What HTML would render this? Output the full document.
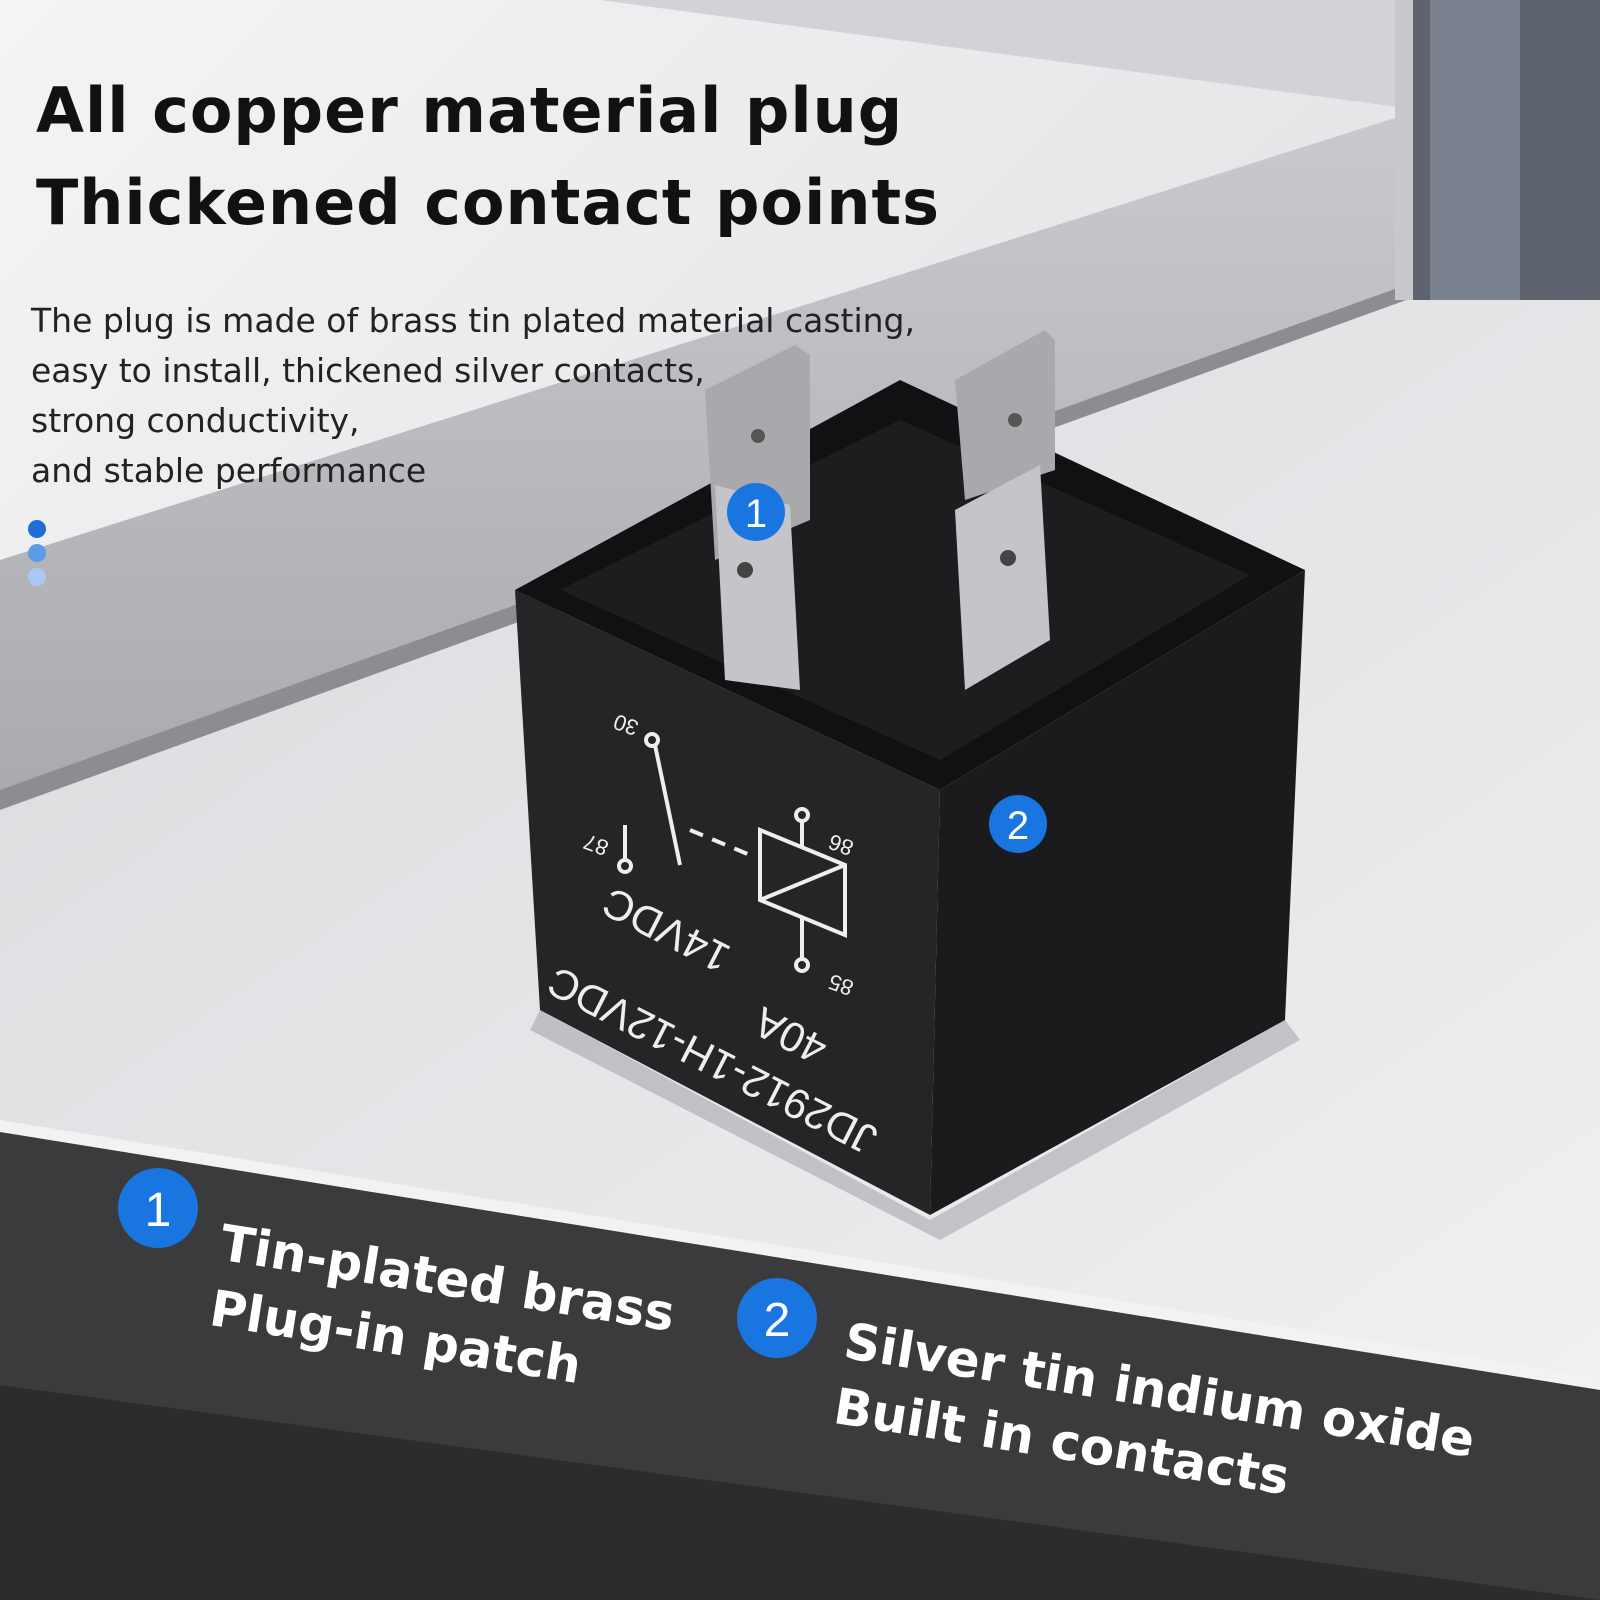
<!DOCTYPE html>
<html><head><meta charset="utf-8">
<style>
html,body{margin:0;padding:0;}
body{width:1600px;height:1600px;position:relative;overflow:hidden;background:#e6e7ea;font-family:"Liberation Sans","DejaVu Sans",sans-serif;}
svg{position:absolute;left:0;top:0;}
.t{position:absolute;left:36px;font-weight:bold;font-size:62px;color:#111;letter-spacing:1px;white-space:nowrap;font-family:"DejaVu Sans","Liberation Sans",sans-serif;}
.b{position:absolute;left:31px;font-size:33px;color:#222;white-space:nowrap;font-family:"DejaVu Sans","Liberation Sans",sans-serif;}
.cap{position:absolute;color:#fff;font-weight:bold;font-size:50px;white-space:nowrap;transform-origin:0 0;line-height:66px;font-family:"DejaVu Sans","Liberation Sans",sans-serif;}
</style></head><body>
<svg width="1600" height="1600" viewBox="0 0 1600 1600">
<defs>
<linearGradient id="bg" x1="0" y1="0" x2="1" y2="1"><stop offset="0" stop-color="#f4f4f5"/><stop offset="1" stop-color="#d6d7db"/></linearGradient>
<linearGradient id="shelf" x1="0" y1="0" x2="0" y2="1"><stop offset="0" stop-color="#c9cacd"/><stop offset="1" stop-color="#a9aaae"/></linearGradient>
<linearGradient id="floor" x1="0" y1="0" x2="1" y2="1"><stop offset="0" stop-color="#d9dadd"/><stop offset="1" stop-color="#f0f0f2"/></linearGradient>
</defs>
<rect width="1600" height="1600" fill="url(#bg)"/>
<polygon points="600,0 1420,0 1420,110 " fill="#d2d3d6"/>
<polygon points="0,560 1420,110 1420,290 0,800" fill="url(#shelf)"/>
<polygon points="0,800 1420,290 1600,285 1600,1390 0,1130" fill="url(#floor)"/>
<polygon points="0,790 1420,280 1420,295 0,810" fill="#8c8d91"/>
<rect x="1410" y="0" width="190" height="300" fill="#5d6470"/>
<rect x="1430" y="0" width="90" height="300" fill="#7a8290"/>
<rect x="1395" y="0" width="18" height="300" fill="#c8c9cc"/>
<polygon points="0,1128 1600,1388 1600,1600 0,1600" fill="#3b3b3d"/>
<polygon points="0,1385 1600,1600 0,1600" fill="#2c2c2e"/>
<polygon points="0,1120 1600,1378 1600,1390 0,1132" fill="#f2f2f2"/>
<polygon points="540,1010 930,1220 1285,1020 1300,1040 940,1240 530,1030" fill="#9a9b9f" opacity="0.5"/>
<polygon points="940,790 1305,570 1285,1020 930,1215" fill="#1b1b1d"/>
<polygon points="515,590 940,790 930,1215 540,1010" fill="#252527"/>
<polygon points="515,590 900,380 1305,570 940,790" fill="#111113"/>
<polygon points="560,590 900,420 1250,575 940,760" fill="#1d1d20"/>
<polygon points="705,390 795,345 810,355 810,520 715,560" fill="#a8a9ad"/>
<polygon points="715,485 790,505 800,690 725,680" fill="#c4c5c8"/>
<polygon points="955,380 1045,330 1055,340 1055,470 965,500" fill="#a8a9ad"/>
<polygon points="955,510 1040,465 1050,640 965,690" fill="#c4c5c8"/>
<circle cx="758" cy="436" r="7" fill="#555"/><circle cx="745" cy="570" r="8" fill="#444"/>
<circle cx="1015" cy="420" r="7" fill="#555"/><circle cx="1008" cy="558" r="8" fill="#444"/>
<g stroke="#eee" stroke-width="4" fill="none">
<polygon points="760,830 845,865 845,935 760,900"/>
<line x1="760" y1="900" x2="845" y2="865"/>
<line x1="802" y1="820" x2="802" y2="848"/><line x1="802" y1="918" x2="802" y2="960"/>
<line x1="655" y1="745" x2="680" y2="865"/>
<line x1="690" y1="830" x2="750" y2="855" stroke-dasharray="14 10"/>
<line x1="625" y1="825" x2="625" y2="860"/>
<circle cx="652" cy="740" r="6"/><circle cx="625" cy="866" r="6"/><circle cx="802" cy="815" r="6"/><circle cx="802" cy="965" r="6"/>
</g>
<g fill="#eee" font-family="Liberation Sans,sans-serif">
<text x="0" y="0" font-size="22" transform="translate(640,722) rotate(200)">30</text>
<text x="0" y="0" font-size="22" transform="translate(610,842) rotate(200)">87</text>
<text x="0" y="0" font-size="22" transform="translate(855,842) rotate(200)">86</text>
<text x="0" y="0" font-size="22" transform="translate(855,982) rotate(200)">85</text>
<text x="0" y="0" font-size="42" transform="translate(733,948) rotate(207)">14VDC</text>
<text x="0" y="0" font-size="42" transform="translate(830,1040) rotate(207)">40A</text>
<text x="0" y="0" font-size="42" transform="translate(880,1130) rotate(207)">JD2912-1H-12VDC</text>
</g>
<g font-family="Liberation Sans,sans-serif" font-size="40" fill="#fff" text-anchor="middle">
<circle cx="756" cy="512" r="29" fill="#1976e0"/><text x="756" y="527">1</text>
<circle cx="1018" cy="824" r="29" fill="#1976e0"/><text x="1018" y="839">2</text>
<circle cx="158" cy="1208" r="40" fill="#1976e0"/><text x="158" y="1226" font-size="48">1</text>
<circle cx="777" cy="1318" r="40" fill="#1976e0"/><text x="777" y="1336" font-size="48">2</text>
</g>
<circle cx="37" cy="529" r="9" fill="#1e6fd6"/>
<circle cx="37" cy="553" r="9" fill="#5b9be8"/>
<circle cx="37" cy="577" r="9" fill="#a9c9f2"/>
</svg>
<div class="t" style="top:74px;">All copper material plug</div>
<div class="t" style="top:166px;">Thickened contact points</div>
<div class="b" style="top:301px;">The plug is made of brass tin plated material casting,</div>
<div class="b" style="top:351px;">easy to install, thickened silver contacts,</div>
<div class="b" style="top:401px;">strong conductivity,</div>
<div class="b" style="top:451px;">and stable performance</div>
<div class="cap" style="left:226px;top:1210px;transform:rotate(9deg);">Tin-plated brass<br>Plug-in patch</div>
<div class="cap" style="left:850px;top:1308px;transform:rotate(9deg);">Silver tin indium oxide<br>Built in contacts</div>
</body></html>
